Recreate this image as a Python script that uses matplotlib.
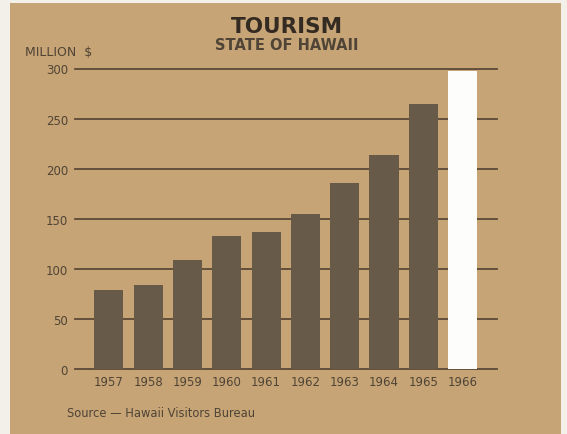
import matplotlib
matplotlib.use("Agg")
import matplotlib.pyplot as plt
import matplotlib.patches as patches

years = ["1957", "1958", "1959", "1960", "1961", "1962", "1963", "1964", "1965", "1966"]
receipts = [79, 84, 109, 133, 137, 155, 186, 214, 265]   # million $, 1957-1965
placeholder_1966 = 298                                    # blank column for 1966
y_ticks = [0, 50, 100, 150, 200, 250, 300]

paper = "#f3f0e9"
tan = "#c6a476"
bar_color = "#685a48"
line_color = "#5c4a36"
text_color = "#4f4436"
title_color = "#332a22"

fig = plt.figure(figsize=(5.67, 4.35), dpi=100, facecolor=paper)

# tan card behind everything
card = patches.Rectangle((10 / 567, 0), 551 / 567, 1 - 4 / 435,
                         transform=fig.transFigure, facecolor=tan,
                         edgecolor="none", zorder=-10)
fig.patches.append(card)

ax = fig.add_axes([75 / 567, 65 / 435, 422 / 567, 300.5 / 435])
ax.set_facecolor("none")

for v in y_ticks:
    ax.axhline(v, color=line_color, linewidth=1.3, zorder=1, clip_on=False)

x = list(range(len(years)))
ax.bar(x[:-1], receipts, width=0.74, color=bar_color, zorder=2)
ax.bar(x[-1], placeholder_1966, width=0.72, color="#fdfdfb", zorder=2)

ax.set_xlim(-0.86, 9.875)
ax.set_ylim(0, 300)
for s in ax.spines.values():
    s.set_visible(False)

ax.set_xticks(x)
ax.set_xticklabels(years, fontsize=8.5, color=text_color)
ax.set_yticks(y_ticks)
ax.set_yticklabels([str(v) for v in y_ticks], fontsize=8.5, color=text_color)
ax.tick_params(length=0)
ax.tick_params(axis="x", pad=4)
ax.tick_params(axis="y", pad=5)

fig.text(287 / 567, 1 - 27 / 435, "TOURISM", ha="center", va="center",
         fontsize=15.5, fontweight="bold", color=title_color)
fig.text(287 / 567, 1 - 46 / 435, "STATE OF HAWAII", ha="center", va="center",
         fontsize=10.5, fontweight="semibold", color=text_color)
fig.text(25 / 567, 1 - 53 / 435, "MILLION  $", ha="left", va="center",
         fontsize=9, color=text_color)
fig.text(67 / 567, 1 - 414 / 435, "Source \u2014 Hawaii Visitors Bureau",
         ha="left", va="center", fontsize=8.3, color=text_color)

fig.savefig("out.png", dpi=100, facecolor=paper)
